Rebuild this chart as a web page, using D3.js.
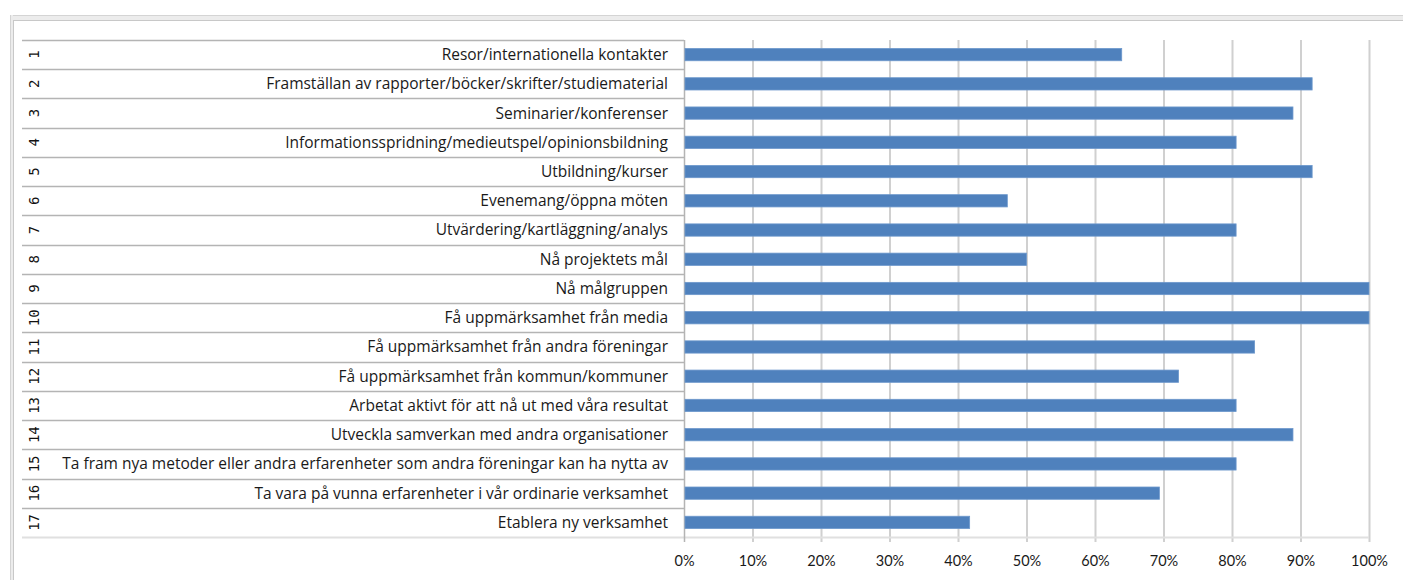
<!DOCTYPE html>
<html>
<head>
<meta charset="utf-8">
<script src="https://cdn.jsdelivr.net/npm/d3@7"></script>
<style>
  body { margin: 0; background: #fff; }
  svg { display: block; font-family: "Open Sans", Lato, sans-serif; }
</style>
</head>
<body>
<section></section>
<script>
const numbers = ["1","2","3","4","5","6","7","8","9","10","11","12","13","14","15","16","17"];
const categories = [
    "Resor/internationella kontakter",
    "Framställan av rapporter/böcker/skrifter/studiematerial",
    "Seminarier/konferenser",
    "Informationsspridning/medieutspel/opinionsbildning",
    "Utbildning/kurser",
    "Evenemang/öppna möten",
    "Utvärdering/kartläggning/analys",
    "Nå projektets mål",
    "Nå målgruppen",
    "Få uppmärksamhet från media",
    "Få uppmärksamhet från andra föreningar",
    "Få uppmärksamhet från kommun/kommuner",
    "Arbetat aktivt för att nå ut med våra resultat",
    "Utveckla samverkan med andra organisationer",
    "Ta fram nya metoder eller andra erfarenheter som andra föreningar kan ha nytta av",
    "Ta vara på vunna erfarenheter i vår ordinarie verksamhet",
    "Etablera ny verksamhet"
];
const values = [63.9, 91.7, 88.9, 80.6, 91.7, 47.2, 80.6, 50, 100, 100, 83.3, 72.2, 80.6, 88.9, 80.6, 69.4, 41.7];
const xTicks = [0, 10, 20, 30, 40, 50, 60, 70, 80, 90, 100];

const WIDTH = 1403;
const HEIGHT = 580;

// plot area
const TOP = 40;
const BOTTOM = 537;
const X0 = 684;
const X1 = 1369;
const TABLE_LEFT = 22;
const LABEL_RIGHT = 668;
const LONGEST = 606; // width of the longest label in the picture

const svg = d3.select("section")
    .append("svg")
    .attr("width", WIDTH)
    .attr("height", HEIGHT);

// outer frame (the embedded chart box)
svg.append("rect").attr("x", 10).attr("y", 15).attr("width", WIDTH - 10).attr("height", 5).attr("fill", "#ececec");
svg.append("line").attr("x1", 10).attr("x2", WIDTH).attr("y1", 15.5).attr("y2", 15.5).attr("stroke", "#d4d4d4");
svg.append("line").attr("x1", 10).attr("x2", WIDTH).attr("y1", 20.5).attr("y2", 20.5).attr("stroke", "#c8c8c8");
svg.append("rect").attr("x", 10).attr("y", 15).attr("width", 3).attr("height", HEIGHT - 15).attr("fill", "#ececec");
svg.append("line").attr("x1", 10.5).attr("x2", 10.5).attr("y1", 15).attr("y2", HEIGHT).attr("stroke", "#d4d4d4");
svg.append("line").attr("x1", 13.5).attr("x2", 13.5).attr("y1", 20).attr("y2", HEIGHT).attr("stroke", "#c8c8c8");

const xScale = d3.scaleLinear().domain([0, 100]).range([X0, X1]);
const yScale = d3.scaleBand().domain(numbers).range([TOP, BOTTOM]);
const barScale = d3.scaleBand().domain(numbers).range([TOP, BOTTOM]).paddingInner(0.58).paddingOuter(0.29);

// vertical gridlines
svg.append("g")
    .selectAll("line")
    .data(xTicks.slice(1))
    .enter()
    .append("line")
    .attr("x1", d => xScale(d) + 0.5)
    .attr("x2", d => xScale(d) + 0.5)
    .attr("y1", TOP)
    .attr("y2", BOTTOM + 5)
    .attr("stroke", "#d0d0d0")
    .attr("stroke-width", 2);

// bottom line of plot area
svg.append("line")
    .attr("x1", X0).attr("x2", X1)
    .attr("y1", BOTTOM + 0.5).attr("y2", BOTTOM + 0.5)
    .attr("stroke", "#e0e0e0").attr("stroke-width", 2);

// category table rows
svg.append("g")
    .selectAll("line")
    .data(numbers.concat(["end"]))
    .enter()
    .append("line")
    .attr("x1", TABLE_LEFT)
    .attr("x2", X0)
    .attr("y1", (d, i) => Math.round(TOP + i * yScale.step()) + 0.5)
    .attr("y2", (d, i) => Math.round(TOP + i * yScale.step()) + 0.5)
    .attr("stroke", (d, i) => i === numbers.length ? "#e0e0e0" : "#b4b4b4")
    .attr("stroke-width", (d, i) => i === numbers.length ? 2 : 1.5);

// axis line at 0%
svg.append("line")
    .attr("x1", X0 + 0.5).attr("x2", X0 + 0.5)
    .attr("y1", TOP).attr("y2", BOTTOM + 5)
    .attr("stroke", "#b4b4b4").attr("stroke-width", 1.5);

// bars
svg.append("g")
    .selectAll("rect")
    .data(values)
    .enter()
    .append("rect")
    .attr("x", xScale(0) + 1)
    .attr("y", (d, i) => barScale(numbers[i]))
    .attr("width", d => xScale(d) - xScale(0) - 1)
    .attr("height", barScale.bandwidth())
    .attr("fill", "#4f81bd")
    .attr("stroke", "#6d98cc")
    .attr("stroke-width", 0.8);

// category labels
const labels = svg.append("g")
    .selectAll("text")
    .data(categories)
    .enter()
    .append("text")
    .attr("x", LABEL_RIGHT)
    .attr("y", (d, i) => yScale(numbers[i]) + yScale.bandwidth() / 2)
    .attr("dy", "0.35em")
    .attr("text-anchor", "end")
    .attr("font-size", "14px")
    .attr("fill", "#1a1a1a")
    .text(d => d);

// fit the font so the longest label is as wide as in the picture (narrow Calibri-like look)
const widest = d3.max(labels.nodes(), n => n.getComputedTextLength());
labels.attr("font-size", (14 * LONGEST / widest) + "px");

// rotated row numbers
svg.append("g")
    .selectAll("text")
    .data(numbers)
    .enter()
    .append("text")
    .attr("transform", d => "translate(34," + (yScale(d) + yScale.bandwidth() / 2) + ") rotate(-90)")
    .attr("dy", "0.36em")
    .attr("text-anchor", "middle")
    .attr("font-family", "'DejaVu Sans Mono', 'Liberation Mono', monospace")
    .attr("font-size", "14px")
    .attr("fill", "#111")
    .text(d => d);

// x axis
const xAxis = d3.axisBottom(xScale)
    .tickValues(xTicks)
    .tickFormat(d => d + "%")
    .tickSize(0)
    .tickPadding(19);

svg.append("g")
    .attr("id", "x-axis")
    .attr("transform", "translate(0," + BOTTOM + ")")
    .call(xAxis)
    .call(g => g.select(".domain").remove())
    .call(g => g.selectAll("text")
        .attr("font-family", "Lato, 'Open Sans', sans-serif")
        .attr("font-size", "14.5px")
        .attr("fill", "#1a1a1a"));
</script>
</body>
</html>
